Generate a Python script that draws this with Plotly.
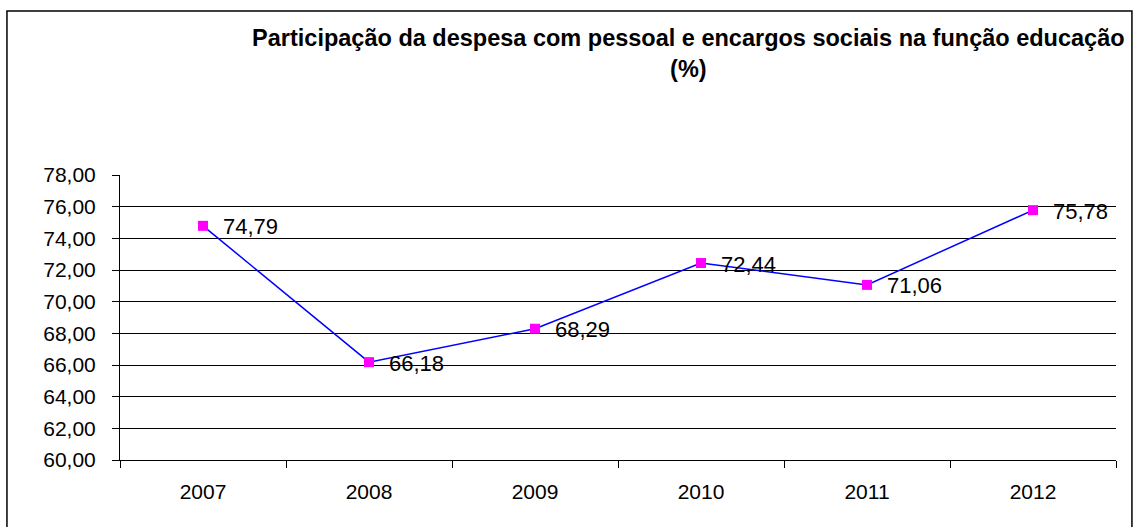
import plotly.graph_objects as go

anos = ['2007', '2008', '2009', '2010', '2011', '2012']
participacao = [74.79, 66.18, 68.29, 72.44, 71.06, 75.78]
rotulos = [f'{v:.2f}'.replace('.', ',') for v in participacao]

fig = go.Figure()

fig.add_trace(
    go.Scatter(
        x=anos,
        y=participacao,
        mode='lines+markers',
        line=dict(color='#0000FF', width=1.5),
        marker=dict(symbol='square', size=10, color='#FF00FF'),
        cliponaxis=False,
        showlegend=False
    )
)

# rotulos de dados ao lado dos marcadores (x pelo indice da categoria)
for i, (valor, rotulo) in enumerate(zip(participacao, rotulos)):
    fig.add_annotation(
        x=i, y=valor, text=rotulo,
        showarrow=False, xanchor='left', yanchor='middle',
        xshift=18, yshift=-1,
        font=dict(size=22, color='black')
    )

fig.update_layout(
    width=1134,
    height=527,
    margin=dict(l=120, r=18, t=175, b=67),
    paper_bgcolor='white',
    plot_bgcolor='white',
    separators=',.',
    font=dict(family='Liberation Sans, Arial', size=22, color='black'),
    title=dict(
        text='<b>Participação da despesa com pessoal e encargos sociais na função educação<br>(%)</b>',
        x=0.607,
        xanchor='center',
        y=0.912,
        yanchor='top',
        font=dict(size=23.5)
    ),
    shapes=[
        dict(
            type='rect', xref='paper', yref='paper',
            x0=-0.1135, x1=1.016, y0=-0.3, y1=1.5754,
            line=dict(color='black', width=1.5)
        )
    ]
)

fig.update_xaxes(
    type='category',
    range=[-0.5, len(anos) - 0.5],
    showgrid=False,
    showline=True,
    linecolor='black',
    linewidth=1,
    ticks='outside',
    tickson='boundaries',
    ticklen=7,
    tickcolor='black',
    ticklabelstandoff=13,
    tickangle=0,
    tickfont=dict(size=21)
)

fig.update_yaxes(
    range=[60, 78],
    dtick=2,
    tickformat='.2f',
    showgrid=True,
    gridcolor='black',
    gridwidth=1,
    showline=True,
    linecolor='black',
    linewidth=1,
    ticks='outside',
    ticklen=7,
    tickcolor='black',
    ticklabelstandoff=12,
    tickfont=dict(size=21),
    zeroline=False
)

fig.write_html('out.html', config={'displayModeBar': False},
               post_script="document.body.style.margin='0';")
